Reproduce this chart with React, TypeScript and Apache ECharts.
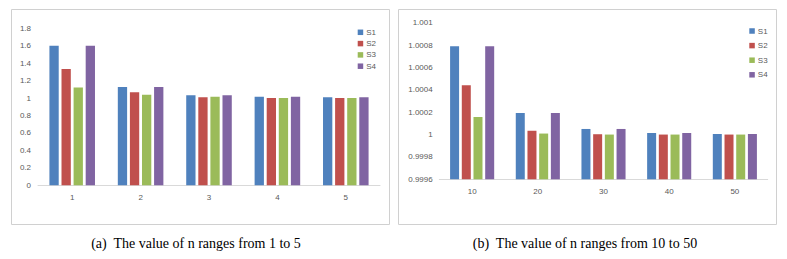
import React, { useEffect, useRef } from "react";
import * as echarts from "echarts";

const seriesNames = ["S1", "S2", "S3", "S4"];
const colors = ["#4f81bd", "#c0504d", "#9bbb59", "#8064a2"];

const catsA = ["1", "2", "3", "4", "5"];
const a_S1 = [1.6, 1.128, 1.032, 1.016, 1.009];
const a_S2 = [1.333, 1.067, 1.009, 1.002, 1.001];
const a_S3 = [1.12, 1.037, 1.016, 1.002, 1.001];
const a_S4 = [1.6, 1.128, 1.032, 1.016, 1.009];

const catsB = ["10", "20", "30", "40", "50"];
const b_S1 = [1.00079, 1.000193, 1.00005, 1.000014, 1.000005];
const b_S2 = [1.00044, 1.000034, 1.000003, 1.0, 1.0];
const b_S3 = [1.000157, 1.000009, 1.0, 1.0, 1.0];
const b_S4 = [1.00079, 1.000193, 1.00005, 1.000014, 1.000005];

const captionA = "(a)  The value of n ranges from 1 to 5";
const captionB = "(b)  The value of n ranges from 10 to 50";

export default function App() {
  const ref = useRef<HTMLDivElement>(null);
  useEffect(() => {
    if (!ref.current) return;
    const chart = echarts.init(ref.current, null, { renderer: "svg" });
    const labelColor = "#595959";
    const font = "Liberation Sans, Arial, sans-serif";
    const dataA = [a_S1, a_S2, a_S3, a_S4];
    const dataB = [b_S1, b_S2, b_S3, b_S4];
    const seriesA = seriesNames.map((n, i) => ({
      name: n,
      type: "bar",
      xAxisIndex: 0,
      yAxisIndex: 0,
      data: dataA[i],
      barWidth: 9.3,
      barGap: "30%",
      itemStyle: { color: colors[i] },
    }));
    const seriesB = seriesNames.map((n, i) => ({
      name: n,
      type: "bar",
      xAxisIndex: 1,
      yAxisIndex: 1,
      data: dataB[i],
      barWidth: 9,
      barGap: "30%",
      itemStyle: { color: colors[i] },
    }));
    const xAxisCommon = {
      type: "category",
      axisLine: { show: true, lineStyle: { color: "#d9d9d9", width: 1 } },
      axisTick: { show: false },
      axisLabel: { color: labelColor, fontSize: 8, fontFamily: font, margin: 8 },
      splitLine: { show: false },
    };
    const yAxisCommon = {
      type: "value",
      axisLine: { show: false },
      axisTick: { show: false },
      splitLine: { show: false },
    };
    chart.setOption({
      animation: false,
      backgroundColor: "#ffffff",
      grid: [
        { left: 38, top: 28.3, width: 342, height: 157, containLabel: false },
        { left: 439.3, top: 22.7, width: 328.4, height: 156.6, containLabel: false },
      ],
      xAxis: [
        { ...xAxisCommon, gridIndex: 0, data: catsA },
        { ...xAxisCommon, gridIndex: 1, data: catsB },
      ],
      yAxis: [
        {
          ...yAxisCommon,
          gridIndex: 0,
          min: 0,
          max: 1.8,
          interval: 0.2,
          axisLabel: { color: labelColor, fontSize: 8, fontFamily: font, margin: 7 },
        },
        {
          ...yAxisCommon,
          gridIndex: 1,
          min: 0.9996,
          max: 1.001,
          interval: 0.0002,
          axisLabel: {
            color: labelColor,
            fontSize: 8,
            fontFamily: font,
            margin: 6.6,
            formatter: (v: number) => String(parseFloat(v.toFixed(4))),
          },
        },
      ],
      legend: [
        {
          orient: "vertical",
          left: 352.7,
          top: 23.3,
          itemWidth: 5.5,
          itemHeight: 5.5,
          itemGap: 3.3,
          icon: "rect",
          data: seriesNames,
          textStyle: { color: labelColor, fontSize: 8, fontFamily: font, lineHeight: 8, padding: [0, 0, 0, -2] },
        },
        {
          orient: "vertical",
          left: 744.3,
          top: 22,
          itemWidth: 5.5,
          itemHeight: 5.5,
          itemGap: 6.6,
          icon: "rect",
          data: seriesNames,
          textStyle: { color: labelColor, fontSize: 8, fontFamily: font, lineHeight: 8, padding: [0, 0, 0, -2] },
        },
      ],
      graphic: [
        {
          type: "rect",
          shape: { x: 11.5, y: 9.5, width: 378, height: 215 },
          style: { fill: "none", stroke: "#d0d0d0", lineWidth: 1 },
          silent: true,
        },
        {
          type: "rect",
          shape: { x: 398.5, y: 9.5, width: 378, height: 215 },
          style: { fill: "none", stroke: "#d0d0d0", lineWidth: 1 },
          silent: true,
        },
        {
          type: "text",
          x: 196,
          y: 243,
          style: {
            text: captionA,
            fontSize: 14,
            fontFamily: "Liberation Serif, Times New Roman, serif",
            fill: "#000000",
            textAlign: "center",
            textVerticalAlign: "middle",
          },
        },
        {
          type: "text",
          x: 585,
          y: 243,
          style: {
            text: captionB,
            fontSize: 14,
            fontFamily: "Liberation Serif, Times New Roman, serif",
            fill: "#000000",
            textAlign: "center",
            textVerticalAlign: "middle",
          },
        },
      ],
      series: [...seriesA, ...seriesB],
    });
    return () => chart.dispose();
  }, []);
  return (
    <div
      ref={ref}
      style={{ position: "absolute", left: 0, top: 0, width: 787, height: 259 }}
    />
  );
}
